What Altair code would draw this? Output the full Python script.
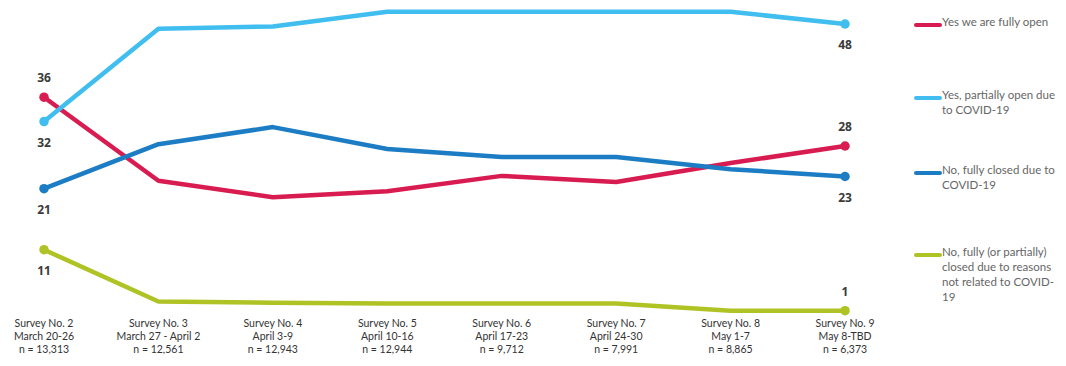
import altair as alt
import pandas as pd

# ---- data ----
surveys = ["Survey No. 2", "Survey No. 3", "Survey No. 4", "Survey No. 5",
           "Survey No. 6", "Survey No. 7", "Survey No. 8", "Survey No. 9"]
dates = ["March 20-26", "March 27 - April 2", "April 3-9", "April 10-16",
         "April 17-23", "April 24-30", "May 1-7", "May 8-TBD"]
sizes = ["n = 13,313", "n = 12,561", "n = 12,943", "n = 12,944",
         "n = 9,712", "n = 7,991", "n = 8,865", "n = 6,373"]

series = ["Yes we are fully open",
          "Yes, partially open due to COVID-19",
          "No, fully closed due to COVID-19",
          "No, fully (or partially) closed due to reasons not related to COVID-19"]
legend_lines = ["Yes we are fully open",
                "Yes, partially open due\nto COVID-19",
                "No, fully closed due to\nCOVID-19",
                "No, fully (or partially)\nclosed due to reasons\nnot related to COVID-\n19"]

fully_open = [36, 22.3, 19.6, 20.6, 23.1, 22.1, 25.2, 28]
partially_open = [32, 47.2, 47.6, 50, 50, 50, 50, 48]
fully_closed = [21, 28.3, 31.1, 27.5, 26.2, 26.2, 24.2, 23]
closed_other = [11, 2.5, 2.3, 2.2, 2.2, 2.2, 1.0, 1]

colors = ["#D81B50", "#41BEF0", "#1C7DC4", "#AFC325"]

all_values = [fully_open, partially_open, fully_closed, closed_other]
# endpoint label placement: (first, last)
label_pos = [("above", "above"), ("below", "below"), ("below", "below"), ("below", "above")]

rows = []
for s, vals in zip(series, all_values):
    for i, v in enumerate(vals):
        rows.append({"series": s, "idx": i, "value": v})
df = pd.DataFrame(rows)

lab_rows = []
for s, vals, pos in zip(series, all_values, label_pos):
    lab_rows.append({"series": s, "idx": 0, "value": vals[0], "pos": pos[0], "text": str(round(vals[0]))})
    lab_rows.append({"series": s, "idx": len(vals) - 1, "value": vals[-1], "pos": pos[1], "text": str(round(vals[-1]))})
lab_df = pd.DataFrame(lab_rows)

xlab_df = pd.DataFrame({
    "idx": list(range(len(surveys))),
    "label": [f"{a}\n{b}\n{c}" for a, b, c in zip(surveys, dates, sizes)],
})

# ---- scales ----
xscale = alt.Scale(domain=[-0.3146, 8.861], nice=False, zero=False)
yscale = alt.Scale(domain=[-6.75, 50.62], nice=False, zero=False)
cscale = alt.Scale(domain=series, range=colors)

X = alt.X("idx:Q", scale=xscale, axis=None)
Y = alt.Y("value:Q", scale=yscale, axis=None)
C = alt.Color("series:N", scale=cscale, legend=None)

lines = alt.Chart(df).mark_line(strokeWidth=4.5, strokeCap="round", strokeJoin="round").encode(
    x=X, y=Y, color=C, detail="series:N")

ends = alt.Chart(lab_df).mark_circle(size=90, opacity=1).encode(x=X, y=Y, color=C)

lab_above = alt.Chart(lab_df).transform_filter(alt.datum.pos == "above").mark_text(
    dy=-19, fontSize=12, fontWeight="bold", color="#3a3a3a", font="Open Sans").encode(
    x=X, y=Y, text="text:N")
lab_below = alt.Chart(lab_df).transform_filter(alt.datum.pos == "below").mark_text(
    dy=21, fontSize=12, fontWeight="bold", color="#3a3a3a", font="Open Sans").encode(
    x=X, y=Y, text="text:N")

xlabels = alt.Chart(xlab_df).mark_text(
    lineBreak="\n", baseline="top", align="center", fontSize=10.5, lineHeight=13,
    color="#333333", font="Lato").encode(
    x=X, y=alt.value(311), text="label:N")

layers = [lines, ends, lab_above, lab_below, xlabels]

legend_y = [17, 90, 165, 247]
one = pd.DataFrame({"a": [0]})
for name, col, ypos in zip(legend_lines, colors, legend_y):
    layers.append(alt.Chart(one).mark_rule(strokeWidth=4, color=col, strokeCap="round").encode(
        x=alt.value(908), x2=alt.value(932), y=alt.value(ypos)))
    layers.append(alt.Chart(one).mark_text(
        text=name, lineBreak="\n", align="left", baseline="top", fontSize=11.5,
        lineHeight=15, color="#666666", font="Lato").encode(
        x=alt.value(934), y=alt.value(ypos - 8)))

chart = alt.layer(*layers).properties(
    width=1050, height=350,
    autosize=alt.AutoSizeParams(type="none"),
    padding=0,
).configure_view(strokeWidth=0)

chart.save("out.html", embed_options={"renderer": "svg", "actions": False})
